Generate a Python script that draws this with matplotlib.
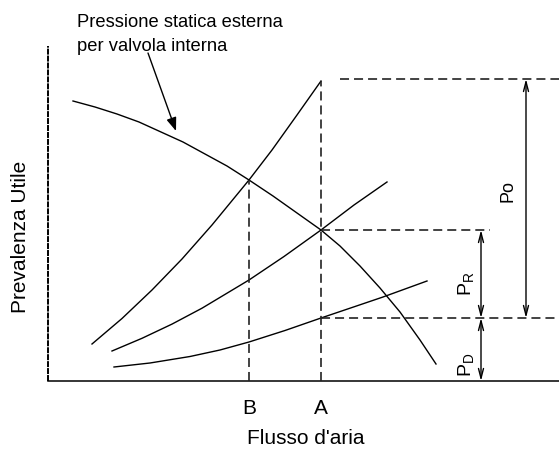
import matplotlib
matplotlib.use('Agg')
import matplotlib.pyplot as plt

plt.rcParams['font.family'] = ['Liberation Sans', 'DejaVu Sans']
plt.rcParams['mathtext.fontset'] = 'custom'
plt.rcParams['mathtext.rm'] = 'Liberation Sans'
plt.rcParams['lines.scale_dashes'] = False

# schematic units: x = air flow, y = useful head (origin at the axes corner)
X_MAX, Y_MAX = 511, 335
B_FLOW, A_FLOW = 201, 273

# external static pressure curve (falling)
sys_x = [25, 47, 69, 91, 113, 135, 157, 179, 201, 225, 249, 273, 292, 312, 332, 352, 372, 388]
sys_y = [280, 274, 267, 259, 249, 239, 227, 215, 201, 185, 168, 151, 135, 115, 93, 69, 41, 17]

# fan curves (rising)
fan1_x = [44, 74, 104, 134, 164, 201, 224, 249, 273]
fan1_y = [37, 62.5, 91, 122, 156, 201, 231, 266, 300]
fan2_x = [64, 94, 124, 154, 201, 236, 273, 306, 339]
fan2_y = [30, 42.7, 56.9, 72.8, 101, 124.5, 151, 176, 199]
fan3_x = [66, 102, 142, 172, 201, 237, 273, 307, 335, 357, 379]
fan3_y = [14, 18, 24.5, 31, 39, 50.5, 63, 74.5, 84, 92, 100]

P_TOP = 302     # max head at A
P_MID = 151     # operating point A
P_LOW = 63      # head of lowest curve at A

fig = plt.figure(figsize=(5.59, 4.49), dpi=100)
ax = fig.add_axes([0, 0, 1, 1])
ax.set_xlim(-48, 511)
ax.set_ylim(-68, 381)
ax.axis('off')

# axes
ax.plot([0, 0], [0, Y_MAX], color='black', lw=1.4, linestyle=(0, (4.3, 0.7)))
ax.plot([0, X_MAX], [0, 0], color='black', lw=1.1)

# curves
for cx, cy in [(sys_x, sys_y), (fan1_x, fan1_y), (fan2_x, fan2_y), (fan3_x, fan3_y)]:
    ax.plot(cx, cy, color='black', lw=1.0, solid_joinstyle='round')

# dashed guide lines
dash = dict(color='#222222', lw=1.2, linestyle=(0, (6.5, 3.6)))
ax.plot([B_FLOW, B_FLOW], [0, 201], **dash)
ax.plot([A_FLOW, A_FLOW], [0, 300], **dash)
ax.plot([292, X_MAX], [P_TOP, P_TOP], **dash)
ax.plot([A_FLOW, 442], [P_MID, P_MID], **dash)
ax.plot([A_FLOW, X_MAX], [P_LOW, P_LOW], **dash)

# dimension arrows
dim = dict(arrowstyle='<->,head_length=0.7,head_width=0.18', lw=1.0,
           color='black', shrinkA=0, shrinkB=0)
ax.annotate('', xy=(478, P_TOP), xytext=(478, P_LOW), arrowprops=dim)
ax.annotate('', xy=(433, P_MID), xytext=(433, P_LOW), arrowprops=dim)
ax.annotate('', xy=(433, P_LOW), xytext=(433, 0), arrowprops=dim)

ax.text(460, 190, 'Po', rotation=90, fontsize=13, ha='center', va='center')
ax.text(419, 97, r'P$_\mathrm{R}$', rotation=90, fontsize=14, ha='center', va='center')
ax.text(419, 16, r'P$_\mathrm{D}$', rotation=90, fontsize=14, ha='center', va='center')

# annotation for the system curve
ax.text(29, 354, 'Pressione statica esterna', fontsize=13.2, va='baseline')
ax.text(29, 330, 'per valvola interna', fontsize=13.2, va='baseline')
ax.annotate('', xy=(128, 250), xytext=(100, 328),
            arrowprops=dict(arrowstyle='-|>,head_length=0.8,head_width=0.3',
                            lw=1.0, color='black', fc='black', shrinkA=0, shrinkB=0))

# labels
ax.text(B_FLOW, -27, 'B', fontsize=15, ha='center', va='center')
ax.text(A_FLOW, -27, 'A', fontsize=15, ha='center', va='center')
ax.text(258, -57, "Flusso d'aria", fontsize=15, ha='center', va='center')
ax.text(-27, 144, 'Prevalenza Utile', fontsize=15, rotation=90, ha='center', va='center')

fig.savefig('out.png', dpi=100)
